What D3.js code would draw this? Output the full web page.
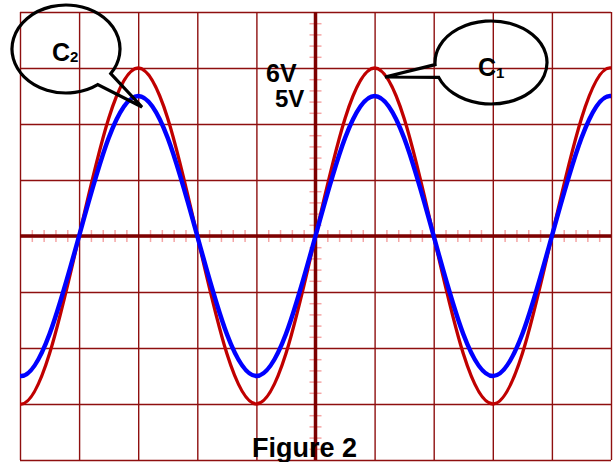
<!DOCTYPE html>
<html>
<head>
<meta charset="utf-8">
<script src="https://cdn.jsdelivr.net/npm/d3@7"></script>
<style>
  body { margin: 0; background: #fff; }
  text { font-family: "Liberation Sans", Arial, sans-serif; font-weight: bold; fill: #000; }
</style>
</head>
<body>
<svg id="chart" width="614" height="462"></svg>
<script>
// time in screen divisions, voltage in volts (2 V / div); one sample past each edge, clipped
var timeDiv = [-5.5, -5, -4.5, -4, -3.5, -3, -2.5, -2, -1.5, -1, -0.5, 0, 0.5, 1, 1.5, 2, 2.5, 3, 3.5, 4, 4.5, 5, 5.5];
var c1Volts = [-4.2, -6, -4.2, 0, 4.2, 6, 4.2, 0, -4.2, -6, -4.2, 0, 4.2, 6, 4.2, 0, -4.2, -6, -4.2, 0, 4.2, 6, 4.2];
var c2Volts = [-3.5, -5, -3.5, 0, 3.5, 5, 3.5, 0, -3.5, -5, -3.5, 0, 3.5, 5, 3.5, 0, -3.5, -5, -3.5, 0, 3.5, 5, 3.5];
var voltLabels = ["6V", "5V"];
var channelNames = ["C", "C"];
var channelSubs = ["1", "2"];
var figTitle = "Figure 2";

var svg = d3.select("#chart");
var gLeft = 20, gRight = 611, gTop = 12, gBottom = 460;

var x = d3.scaleLinear().domain([-5, 5]).range([gLeft, gRight]);
var y = d3.scaleLinear().domain([-8, 8]).range([gBottom, gTop]);

svg.append("clipPath").attr("id", "screen")
  .append("rect").attr("x", gLeft).attr("y", 0).attr("width", gRight - gLeft).attr("height", 462);

// major grid
svg.append("g")
    .attr("transform", "translate(0," + gBottom + ")")
    .call(d3.axisBottom(x).tickValues(d3.range(-5, 6, 1)).tickSize(-(gBottom - gTop)).tickFormat(""))
    .call(function(g){ g.select(".domain").remove(); })
    .selectAll("line").attr("stroke", "#8e0f0f").attr("stroke-width", 1.4);
svg.append("g")
    .attr("transform", "translate(" + gLeft + ",0)")
    .call(d3.axisLeft(y).tickValues(d3.range(-8, 9, 2)).tickSize(-(gRight - gLeft)).tickFormat(""))
    .call(function(g){ g.select(".domain").remove(); })
    .selectAll("line").attr("stroke", "#8e0f0f").attr("stroke-width", 1.4);

// minor ticks on the centre lines
var minorX = d3.range(-25, 26).filter(function(i){ return i % 5 !== 0; }).map(function(i){ return i / 5; });
var minorY = d3.range(-20, 21).filter(function(i){ return i % 5 !== 0; }).map(function(i){ return i * 0.4; });
svg.append("g")
    .attr("transform", "translate(0," + (y(0) - 6) + ")")
    .call(d3.axisBottom(x).tickValues(minorX).tickSize(12).tickFormat(""))
    .call(function(g){ g.select(".domain").remove(); })
    .selectAll("line").attr("stroke", "#f5a5a5").attr("stroke-width", 1.5);
svg.append("g")
    .attr("transform", "translate(" + (x(0) + 6) + ",0)")
    .call(d3.axisLeft(y).tickValues(minorY).tickSize(12).tickFormat(""))
    .call(function(g){ g.select(".domain").remove(); })
    .selectAll("line").attr("stroke", "#f5a5a5").attr("stroke-width", 1.5);

// centre lines
svg.append("line")
    .attr("x1", gLeft).attr("x2", gRight).attr("y1", y(0)).attr("y2", y(0))
    .attr("stroke", "#7d0000").attr("stroke-width", 3.5);
svg.append("line")
    .attr("x1", x(0)).attr("x2", x(0)).attr("y1", gTop).attr("y2", gBottom)
    .attr("stroke", "#7d0000").attr("stroke-width", 3.5);

// traces
var line = d3.line().curve(d3.curveNatural);
var traces = svg.append("g").attr("clip-path", "url(#screen)");
traces.append("path")
    .attr("d", line(timeDiv.map(function(t, i){ return [x(t), y(c1Volts[i])]; })))
    .attr("fill", "none").attr("stroke", "#c00000").attr("stroke-width", 3.3);
traces.append("path")
    .attr("d", line(timeDiv.map(function(t, i){ return [x(t), y(c2Volts[i])]; })))
    .attr("fill", "none").attr("stroke", "#0000ff").attr("stroke-width", 4.5);

// peak labels
svg.append("text").attr("x", 266).attr("y", 82).style("font-size", "25px").text(voltLabels[0]);
svg.append("text").attr("x", 275).attr("y", 107).style("font-size", "24px").text(voltLabels[1]);

// speech bubbles
function bubble(cx, cy, rx, ry, a1, a2, tip, sweep) {
    var p1 = [cx + rx * Math.cos(a1 * Math.PI / 180), cy + ry * Math.sin(a1 * Math.PI / 180)];
    var p2 = [cx + rx * Math.cos(a2 * Math.PI / 180), cy + ry * Math.sin(a2 * Math.PI / 180)];
    var d = "M" + p1 + "A" + rx + "," + ry + " 0 1 " + sweep + " " + p2 + "L" + tip + "Z";
    svg.append("path").attr("d", d)
        .attr("fill", "none").attr("stroke", "#000").attr("stroke-width", 3.2)
        .attr("stroke-linejoin", "miter");
}
bubble(66, 49, 54, 44, 34, 54, [142, 107], 0);
bubble(491, 62.5, 56, 41.5, 177, 159, [385, 77], 1);

var t1 = svg.append("text").attr("x", 478).attr("y", 76).style("font-size", "25px");
t1.append("tspan").text(channelNames[0]);
t1.append("tspan").attr("dy", 2).style("font-size", "15px").text(channelSubs[0]);
var t2 = svg.append("text").attr("x", 52).attr("y", 61).style("font-size", "25px");
t2.append("tspan").text(channelNames[1]);
t2.append("tspan").attr("dy", 1).style("font-size", "15px").text(channelSubs[1]);

svg.append("text").attr("x", 252).attr("y", 457).style("font-size", "27px").text(figTitle);
</script>
</body>
</html>
